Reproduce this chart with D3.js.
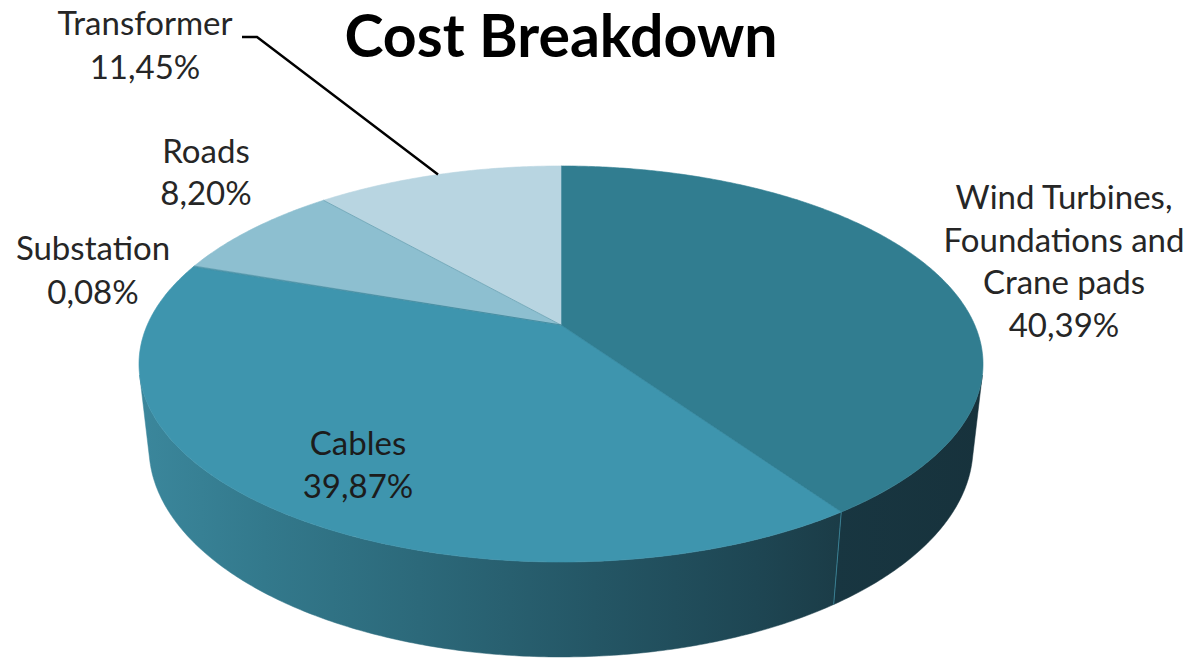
<!DOCTYPE html>
<html>
<head>
<meta charset="utf-8">
<title>Cost Breakdown</title>
<script src="https://cdn.jsdelivr.net/npm/d3@7"></script>
<style>
  html, body { margin: 0; padding: 0; background: #ffffff; }
  svg { display: block; }
  text { font-family: Lato, "Open Sans", "DejaVu Sans", sans-serif; }
</style>
</head>
<body>
<svg id="chart" width="1190" height="659"></svg>
<script>
// Slices, in drawing order (clockwise from 12 o'clock)
const categories = ["Wind Turbines, Foundations and Crane pads", "Cables", "Substation", "Roads", "Transformer"];
const shares = [40.39, 39.87, 0.08, 8.20, 11.45];
const labelLines = [
  ["Wind Turbines,", "Foundations and", "Crane pads"],
  ["Cables"],
  ["Substation"],
  ["Roads"],
  ["Transformer"]
];
const topColors = ["#317d90", "#3e95ae", "#62a9be", "#8dbfd0", "#b8d5e1"];

const svg = d3.select("#chart");

// Perspective camera for a flat cylinder of unit radius
const view = {
  cx: 561, cy: 325,          // screen position of the centre of the top face
  F: 1866,                   // focal length in px
  D: 4.51,                   // camera distance (in radii)
  tilt: 27.39 * Math.PI / 180,
  depth: 0.2287              // thickness of the disc (in radii)
};
const sinT = Math.sin(view.tilt), cosT = Math.cos(view.tilt);

// theta: clockwise from the back of the disc; h: 0 = top face, -depth = bottom face
function project(theta, h) {
  const v = Math.sin(theta), u = -Math.cos(theta);
  const den = view.D - h * sinT - u * cosT;
  return [view.cx + view.F * v / den, view.cy + view.F * (u * sinT - h * cosT) / den];
}
function arcPoints(a0, a1, h) {
  const n = Math.max(2, Math.ceil(Math.abs(a1 - a0) / 0.01));
  return d3.range(n + 1).map(i => project(a0 + (a1 - a0) * i / n, h));
}

const pie = d3.pie().sort(null).value(d => d).startAngle(0).endAngle(2 * Math.PI);
const arcs = pie(shares);

// Wall shading
const defs = svg.append("defs");
function hGradient(id, x1, x2, stops) {
  const g = defs.append("linearGradient")
    .attr("id", id).attr("gradientUnits", "userSpaceOnUse")
    .attr("x1", x1).attr("x2", x2).attr("y1", 0).attr("y2", 0);
  stops.forEach(s => g.append("stop").attr("offset", s[0]).attr("stop-color", s[1]));
}
hGradient("sideCables", 138, 840, [[0, "#3b879c"], [0.18, "#33798c"], [0.4, "#2c697a"], [0.65, "#245665"], [0.88, "#1e4653"], [1, "#1b3c47"]]);
hGradient("sideWind", 835, 985, [[0, "#183641"], [1, "#17323c"]]);
const sideFill = ["url(#sideWind)", "url(#sideCables)", "#2a6a7c", "#4f8da0", "#6f9fae"];

const line = d3.line();

// Visible band of the outer wall (front-facing generators)
const uMin = 1 / (view.D * cosT);
const visA0 = Math.acos(-uMin), visA1 = 2 * Math.PI - visA0;

const gSide = svg.append("g");
arcs.forEach((a, i) => {
  const s = Math.max(a.startAngle, visA0), e = Math.min(a.endAngle, visA1);
  if (e <= s) return;
  const pts = arcPoints(s, e, 0).concat(arcPoints(e, s, -view.depth));
  gSide.append("path")
    .attr("d", line(pts) + "Z")
    .attr("fill", sideFill[i])
    .attr("stroke", sideFill[i]).attr("stroke-width", 0.5);
});
// light seam where two slices meet on the wall
arcs.forEach(a => {
  const ang = a.startAngle;
  if (ang > visA0 && ang < visA1) {
    gSide.append("path")
      .attr("d", line([project(ang, 0), project(ang, -view.depth)]))
      .attr("stroke", "#3d8da3").attr("stroke-width", 1).attr("opacity", 0.8);
  }
});

// Top face slices
const gTop = svg.append("g");
arcs.forEach((a, i) => {
  const pts = [[view.cx, view.cy]].concat(arcPoints(a.startAngle, a.endAngle, 0));
  gTop.append("path")
    .attr("d", line(pts) + "Z")
    .attr("fill", topColors[i])
    .attr("stroke", topColors[i]).attr("stroke-width", 0.6);
});
// faint radial edges between slices
arcs.forEach((a, i) => {
  if (i === 0) return;
  gTop.append("path")
    .attr("d", line([[view.cx, view.cy], project(a.startAngle, 0)]))
    .attr("stroke", "#2c7b91").attr("stroke-width", 1).attr("opacity", 0.45);
});

// Title
svg.append("text")
  .attr("x", 561).attr("y", 57)
  .attr("text-anchor", "middle")
  .attr("font-size", 59).attr("font-weight", 700)
  .attr("fill", "#000")
  .text("Cost Breakdown");

// Data labels
const fmtPct = v => d3.format(".2f")(v).replace(".", ",") + "%";
const labelPos = [
  { x: 1064, y: 209 },
  { x: 358, y: 455 },
  { x: 93, y: 260 },
  { x: 206, y: 163 },
  { x: 145, y: 35 }
];
const lineGap = [42.7, 43, 44, 42, 44];
const gLab = svg.append("g");
arcs.forEach((a, i) => {
  const lines = labelLines[i].concat([fmtPct(shares[i])]);
  const t = gLab.append("text")
    .attr("text-anchor", "middle")
    .attr("font-size", 33)
    .attr("fill", i === 1 ? "#1c1c1c" : "#262626");
  lines.forEach((s, k) => {
    t.append("tspan").attr("x", labelPos[i].x).attr("y", labelPos[i].y + k * lineGap[i]).text(s);
  });
});

// Leader line for the Transformer label
const tr = arcs[4];
const tip = project((tr.startAngle + tr.endAngle) / 2, 0);
gLab.append("path")
  .attr("d", line([[242, 37], [257, 37], tip]))
  .attr("fill", "none").attr("stroke", "#000").attr("stroke-width", 2.4);
</script>
</body>
</html>
